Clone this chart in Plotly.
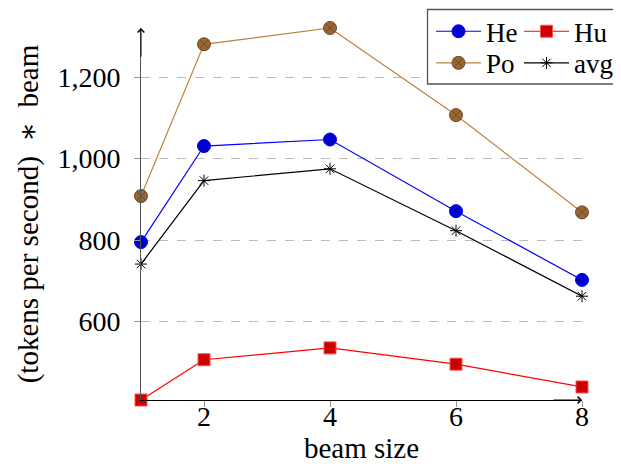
import plotly.graph_objects as go

beam = [1, 2, 4, 6, 8]
he = [795, 1031, 1047, 871, 702]
hu = [407, 506, 535, 495, 439]
po = [908, 1281, 1321, 1107, 868]
avg = [741, 946, 975, 823, 662]

x_ticks = [2, 4, 6, 8]
y_ticks = [600, 800, 1000, 1200]

FONT = "Liberation Serif"
FS_TICK = 28
FS_TITLE = 29
FS_LEG = 27

fig = go.Figure()

fig.add_trace(go.Scatter(
    x=beam, y=he, name="He", mode="lines+markers", legend="legend",
    line=dict(color="#0000ff", width=1.2),
    marker=dict(symbol="circle", size=13, color="#0000cc", line=dict(color="#0000ff", width=1)),
    cliponaxis=False))
fig.add_trace(go.Scatter(
    x=beam, y=hu, name="Hu", mode="lines+markers", legend="legend2",
    line=dict(color="#ff0000", width=1.2),
    marker=dict(symbol="square", size=12, color="#cc0000", line=dict(color="#ff5050", width=1)),
    cliponaxis=False))
fig.add_trace(go.Scatter(
    x=beam, y=po, name="Po", mode="lines+markers", legend="legend3",
    line=dict(color="#bf8040", width=1.2),
    marker=dict(symbol="circle-x", size=13, color="#996633", line=dict(color="#6e4a26", width=1)),
    cliponaxis=False))
fig.add_trace(go.Scatter(
    x=beam, y=avg, name="avg", mode="lines+markers", legend="legend4",
    line=dict(color="#000000", width=1.2),
    marker=dict(symbol="asterisk-open", size=10, color="#000000", line=dict(color="#000000", width=1)),
    cliponaxis=False))

OFF = 8  # page body margin
L, R, T, B = 141 - OFF, 39, 28 - OFF, 72 - OFF
W, H = 621 - OFF, 464 - OFF
pw, ph = W - L - R, H - T - B

def px_x(p):
    return (p - OFF - L) / pw

def px_y(p):
    return (H - B - (p - OFF)) / ph

# legend box
fig.add_shape(type="rect", xref="paper", yref="paper",
              x0=px_x(427.5), x1=px_x(621), y0=px_y(84), y1=px_y(9.5),
              line=dict(color="#555555", width=1.3), fillcolor="white", layer="above")

# axis arrows
fig.add_annotation(xref="paper", yref="paper", x=1, y=0, ax=-30, ay=0,
                   showarrow=True, arrowhead=4, arrowsize=1.3, arrowwidth=1, arrowcolor="black", text="")
fig.add_annotation(xref="paper", yref="paper", x=0, y=1, ax=0, ay=30,
                   showarrow=True, arrowhead=4, arrowsize=1.3, arrowwidth=1, arrowcolor="black", text="")

leg_common = dict(orientation="h", xanchor="left", yanchor="middle",
                  bgcolor="rgba(0,0,0,0)", borderwidth=0,
                  font=dict(family=FONT, size=FS_LEG, color="black"),
                  itemwidth=45, itemclick=False)

col1, col2 = 431, 519
row1, row2 = 31.7, 63.3

fig.update_layout(
    width=W, height=H,
    margin=dict(l=L, r=R, t=T, b=B, autoexpand=False),
    paper_bgcolor="white", plot_bgcolor="white",
    font=dict(family=FONT, size=FS_TICK, color="black"),
    showlegend=True,
    legend=dict(x=px_x(col1), y=px_y(row1), **leg_common),
    legend2=dict(x=px_x(col2), y=px_y(row1), **leg_common),
    legend3=dict(x=px_x(col1), y=px_y(row2), **leg_common),
    legend4=dict(x=px_x(col2), y=px_y(row2), **leg_common),
    xaxis=dict(
        range=[1, 8], tickvals=x_ticks, ticktext=[str(v) for v in x_ticks],
        showgrid=False, zeroline=False,
        showline=True, linecolor="black", linewidth=1,
        ticks="outside", ticklen=6, tickcolor="#999999", tickwidth=1,
        ticklabelstandoff=-15,
        tickfont=dict(family=FONT, size=FS_TICK, color="black"),
        title=dict(text="beam size", font=dict(family=FONT, size=FS_TITLE, color="black"), standoff=0),
        automargin=False,
    ),
    yaxis=dict(
        range=[407, 1321], tickvals=y_ticks, tickformat=",d",
        showgrid=True, gridcolor="#bbbbbb", griddash="dash", gridwidth=1,
        zeroline=False,
        showline=True, linecolor="#555555", linewidth=1,
        ticks="outside", ticklen=6, tickcolor="#999999", tickwidth=1,
        ticklabelstandoff=8,
        tickfont=dict(family=FONT, size=FS_TICK, color="black"),
        title=dict(text="(tokens per second)\u2002<span style='font-family:DejaVu Serif'>∗</span>\u2002beam",
                   font=dict(family=FONT, size=FS_TITLE, color="black"), standoff=10),
        automargin=False,
    ),
)

fig.write_html("out.html")
